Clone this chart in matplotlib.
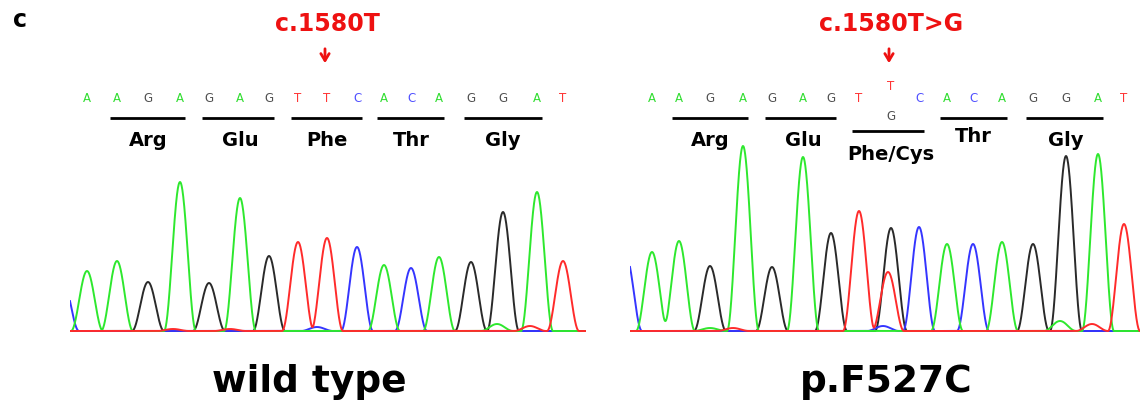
import numpy as np
import matplotlib
matplotlib.use("Agg")
from matplotlib import pyplot as plt
from matplotlib.transforms import blended_transform_factory

# base calls shown above each trace
bases = "AAGAGAGTTCACAGGAT"

# main peaks: base of the peak, position (scan), height
wt_peak_bases = "AAGAGAGTTCACAGGAT"
wt_pos = [17, 47, 78, 110, 139, 170, 199, 228, 257, 287, 314, 341, 369, 401, 433, 467, 493]
wt_height = [60, 70, 49, 149, 48, 133, 75, 89, 93, 84, 66, 63, 74, 69, 119, 139, 70]

mut_peak_bases = "AAGAGAGTGCACAGGAT"
mut_pos = [22, 49, 80, 113, 142, 173, 201, 229, 261, 289, 317, 343, 372, 403, 436, 468, 494]
mut_height = [79, 90, 65, 185, 64, 174, 98, 120, 103, 104, 87, 87, 89, 87, 175, 177, 107]

# small / secondary peaks
wt_minor_bases = ["C", "C", "T", "T", "A", "T"]
wt_minor_pos = [-7, 247, 103, 160, 427, 460]
wt_minor_height = [50, 4, 2, 2, 7, 5]

mut_minor_bases = ["C", "T", "C", "T", "A", "A", "T"]
mut_minor_pos = [-4, 258, 253, 103, 80, 430, 462]
mut_minor_height = [75, 59, 5, 3, 3, 10, 7]

codons = ["Arg", "Glu", "Phe", "Thr", "Gly"]
mut_codons = ["Arg", "Glu", "Phe/Cys", "Thr", "Gly"]
codon_start = [1, 4, 7, 10, 13]

trace_col = {"A": "#2ee82e", "C": "#3535ff", "G": "#2a2a2a", "T": "#ff2b2b"}
letter_col = {"A": "#30dd30", "C": "#5050ff", "G": "#505050", "T": "#ff3535"}

W, H = 1140, 406
fig = plt.figure(figsize=(W / 100, H / 100), dpi=100)


def px_axes(x0, x1, y_top, y_bot):
    return fig.add_axes([x0 / W, 1 - y_bot / H, (x1 - x0) / W, (y_bot - y_top) / H])


def frac(ypix, y_top=40, y_bot=334):
    return (y_bot - ypix) / (y_bot - y_top)


def peak(x, p, h, w=16.0):
    d = np.abs(x - p)
    return np.where(d < w, h * np.cos(np.pi * d / (2 * w)) ** 2, 0.0)


def draw_trace(ax, pb, pos, hgt, mb, mpos, mhgt, xmax):
    x = np.linspace(0, xmax, 3000)
    for ch in "GCAT":
        y = np.zeros_like(x)
        for b, p, h in zip(pb, pos, hgt):
            if b == ch:
                y += peak(x, p, h)
        for b, p, h in zip(mb, mpos, mhgt):
            if b == ch:
                y += peak(x, p, h)
        ax.plot(x, y, color=trace_col[ch], lw=1.4)
    ax.set_xlim(0, xmax)
    ax.set_ylim(-2, 292)
    ax.axis("off")


ax1 = px_axes(70, 586, 40, 334)
ax2 = px_axes(630, 1140, 40, 334)
draw_trace(ax1, wt_peak_bases, wt_pos, wt_height,
           wt_minor_bases, wt_minor_pos, wt_minor_height, 516)
draw_trace(ax2, mut_peak_bases, mut_pos, mut_height,
           mut_minor_bases, mut_minor_pos, mut_minor_height, 510)

for ax, pos, mutant in [(ax1, wt_pos, False), (ax2, mut_pos, True)]:
    tr = blended_transform_factory(ax.transData, ax.transAxes)
    for i, (b, p) in enumerate(zip(bases, pos)):
        yb = frac(99)
        if mutant and i == 8:
            yb = frac(87)
            ax.text(p, frac(116), "G", transform=tr, ha="center", va="center",
                    fontsize=8.5, color=letter_col["G"], clip_on=False)
        ax.text(p, yb, b, transform=tr, ha="center", va="center",
                fontsize=8.5, color=letter_col[b], clip_on=False)
    names = mut_codons if mutant else codons
    for k, (name, s) in enumerate(zip(names, codon_start)):
        line_y = frac(119)
        lab_y = frac(140)
        if mutant and k == 2:
            line_y = frac(132)
            lab_y = frac(155)
        if mutant and k == 3:
            lab_y = frac(136)
        ax.plot([pos[s] - 7, pos[s + 2] + 5], [line_y, line_y], transform=tr,
                color="black", lw=2, clip_on=False, solid_capstyle="butt")
        ax.text(pos[s + 1], lab_y, name, transform=tr, ha="center", va="center",
                fontsize=14, fontweight="bold", color="black", clip_on=False)
    header = "c.1580T>G" if mutant else "c.1580T"
    ax.text(pos[8], frac(24), header, transform=tr, ha="center", va="center",
            fontsize=17, fontweight="bold", color="#ee1111", clip_on=False)
    ax.annotate("", xy=(pos[8] - 2, frac(67)), xytext=(pos[8] - 2, frac(47)),
                xycoords=tr, textcoords=tr,
                arrowprops=dict(arrowstyle="->,head_length=0.5,head_width=0.3",
                                color="#ee1111", lw=2), annotation_clip=False)

fig.text(20 / W, 1 - 20 / H, "c", ha="center", va="center",
         fontsize=17, fontweight="bold")
fig.text(309 / W, 1 - 382 / H, "wild type", ha="center", va="center",
         fontsize=27, fontweight="bold")
fig.text(886 / W, 1 - 382 / H, "p.F527C", ha="center", va="center",
         fontsize=27, fontweight="bold")

fig.savefig("out.png", dpi=100)
